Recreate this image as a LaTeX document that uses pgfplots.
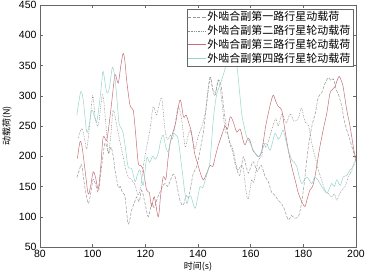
\documentclass[border=0pt]{standalone}
\usepackage{pgfplots}
\pgfplotsset{compat=1.18}
\usepackage{fontspec}
\setmainfont{Liberation Sans}
\newfontfamily\cjk{Noto Sans CJK SC}
\definecolor{gA}{RGB}{150,150,150}
\definecolor{gB}{RGB}{140,140,140}
\definecolor{rC}{RGB}{195,110,120}
\definecolor{tD}{RGB}{150,212,205}
\begin{document}
\begin{tikzpicture}
\begin{axis}[
 width=316pt, height=242pt, scale only axis,
 xmin=80, xmax=200, ymin=50, ymax=450,
 xtick={80,100,...,200}, ytick={50,100,...,450},
 tick align=inside, major tick length=3pt,
 axis line style={black!60}, every tick/.style={black!60},
 tick label style={font=\fontsize{10.5}{12}\selectfont, /pgf/number format/assume math mode=true},
 xlabel={\cjk 时间(s)}, ylabel={\cjk 动载荷(N)},
 label style={font=\fontsize{9}{10}\selectfont},
 x label style={at={(axis description cs:0.5,-0.0826)}, anchor=center},
 y label style={at={(axis description cs:-0.1044,0.5)}, anchor=center},
 legend style={at={(axis description cs:1,1)}, anchor=north east, xshift=-3pt, yshift=-4pt,
   font=\cjk\fontsize{11}{12}\selectfont, draw=black!60, row sep=0pt, inner sep=1pt, nodes={inner sep=1.5pt}},
 legend cell align=left,
 every axis plot/.append style={line width=0.5pt},
]
\addplot[gA, dash pattern=on 3pt off 1.5pt, smooth, tension=0.5] coordinates {
(94,165) (95,178) (95.8,186) (97,150) (98.3,122) (99.3,140) (100.2,162) (101.2,152) (102.2,141) (103.3,180)
(104.7,222) (106,205) (107,215) (107.8,200) (108.5,177) (109.7,149) (110.5,150) (111.3,140) (112.3,133) (113.5,88)
(114.8,111) (116,125) (116.7,133) (117.7,125) (118.6,144) (119.9,122) (121.1,100) (122.4,122) (123.4,115) (124.5,130)
(125.5,140) (126.5,150) (127.5,155) (128.5,150) (129.5,160) (130.5,170) (131.3,166) (132.3,145) (133.3,125) (134.4,119)
(135.5,135) (136.3,130) (137,144) (138.2,172) (139.2,180) (140.1,194) (141,215) (142,238) (143,275) (144.6,330)
(145.5,312) (146.5,300) (147.7,325) (148.7,318) (149.5,290) (150.5,255) (152,222) (153,210) (154,189) (155,175)
(155.9,169) (157.2,199) (158.2,185) (159.1,172) (160,182) (161,191) (162.5,175) (164,185) (165.5,166) (166.7,158)
(168,140) (169.3,135) (170.5,127) (172,120) (173,110) (174.3,95) (175.5,102) (176.5,98) (178.1,100) (179.2,120)
(180.2,150) (181.2,190) (182.2,225) (183.5,255) (184.5,270) (185.7,298) (187,305) (188.2,320) (189.5,330) (190.5,325)
(191.4,328) (192.5,310) (193.5,300) (194.6,282) (195.5,260) (196.5,243) (197.5,230) (198.4,216) (199.2,205) (200,190)
};
\addlegendentry{外啮合副第一路行星动载荷}
\addplot[gB, dash pattern=on 1.2pt off 1pt on 0.4pt off 1pt, smooth, tension=0.5] coordinates {
(94.5,230) (95.8,246) (96.8,232) (97.7,212) (98.7,245) (100,300) (101,262) (102.2,252) (103.8,302) (105.3,238)
(106,205) (106.9,235) (107.8,276) (109,254) (110.3,225) (111.6,199) (112.5,180) (113.5,166) (114.5,162) (115.4,158)
(116.3,150) (117.3,136) (118.3,150) (119.3,185) (120.5,215) (121.8,245) (123,282) (124.2,268) (125,280) (126.2,296)
(127.5,243) (128.5,228) (129.5,235) (130.3,228) (131.3,252) (132.5,282) (133.8,260) (135.1,216) (136,230) (137,243)
(138,227) (138.9,212) (140,232) (141.5,250) (142.7,271) (143.9,315) (144.6,331) (145.6,312) (146.6,305) (147.7,326)
(148.8,300) (150.3,243) (151.3,238) (152.2,221) (153.4,210) (154.5,185) (155.3,177) (156.3,185) (157.2,180) (158.3,140)
(159.1,130) (160.4,161) (161.2,158) (162.9,194) (164.2,199) (164.8,222) (165.8,215) (166.7,224) (168,243) (169.5,262)
(170.5,250) (172,270) (173.5,255) (175,270) (176.5,258) (178.1,262) (179.3,280) (180.6,257) (182,250) (183.5,215)
(185,190) (185.7,177) (187,160) (188.2,144) (189.5,138) (190.8,133) (191.8,138) (192.7,127) (194,140) (195.8,150)
(197,165) (198.4,177) (199.3,190) (200,198)
};
\addlegendentry{外啮合副第二路行星轮动载荷}
\addplot[rC, smooth, tension=0.5] coordinates {
(94.2,196) (95.2,224) (96,215) (97.1,177) (98.3,138) (99.2,150) (100.2,174) (101.1,165) (102.1,146) (103,180)
(104,232) (105.3,226) (106.5,262) (107.5,300) (108.5,335) (109.7,321) (110.7,350) (111.6,370) (112.3,355) (112.9,326)
(114.2,284) (115.4,276) (116.3,238) (117.3,189) (118.2,185) (119.2,177) (120.5,144) (121.5,140) (122.4,117) (123.4,133)
(124.9,100) (125.8,135) (126.8,166) (127.8,162) (128.6,195) (129.4,221) (130.5,240) (131.5,255) (133.2,293) (134.5,265)
(135.5,268) (136.5,255) (137.5,240) (138.7,205) (139.7,190) (140.7,175) (142,161) (143.3,172) (144.6,185) (145.6,183)
(146.6,200) (147.5,215) (148.4,227) (149.4,240) (150.3,250) (151.2,245) (152.2,265) (153.3,258) (154.7,240) (156,245)
(157.2,225) (157.9,219) (159,230) (159.8,225) (160.8,210) (161.7,205) (163,199) (164,205) (164.8,224) (165.7,250)
(166.7,271) (167.7,290) (168.6,301) (169.6,290) (170.5,282) (171.8,276) (173,243) (174.3,210) (175.2,190) (176.2,172)
(177.2,155) (178.1,139) (179.4,125) (180.6,117) (181.5,130) (182.5,144) (183.5,150) (184.4,166) (185.3,190) (186.3,216)
(187.6,245) (188.9,271) (190.1,304) (191,310) (192,315) (192.8,325) (193.6,332) (194.4,325) (195.1,315) (196.5,276)
(197.5,255) (198.4,232) (199.2,210) (200,195)
};
\addlegendentry{外啮合副第三路行星轮动载荷}
\addplot[tD, smooth, tension=0.5] coordinates {
(94,268) (95.5,307) (96.5,290) (97.7,241) (98.6,250) (99.6,276) (100.5,268) (101.5,257) (102.5,285) (103.4,320)
(104,340) (105.3,306) (106.3,312) (107.5,347) (108.5,328) (109.3,290) (110,255) (111,245) (111.6,238) (112.5,212)
(113.5,182) (114.8,180) (116.1,158) (117,170) (118,177) (119.2,152) (120.5,197) (121.6,190) (122.8,200) (123.8,195)
(124.9,205) (125.8,225) (126.8,235) (127.8,215) (128.7,208) (129.7,228) (130.6,238) (131.6,235) (132.5,227) (133.8,183)
(134.7,150) (135.7,122) (136.5,132) (137.3,134) (138.9,114) (140,135) (140.8,150) (141.8,148) (142.7,160) (143.7,175)
(144.6,194) (145.8,260) (147,300) (148.5,320) (150.3,345) (152.5,385) (154.7,350) (155.7,310) (156.6,270) (157.5,250)
(158.5,232) (159.8,222) (161,210) (162.9,199) (164,207) (165.5,221) (166.4,218) (167.4,210) (168.4,225) (169.3,238)
(170.5,228) (171.5,235) (172.4,243) (173.9,216) (175.6,194) (176.5,190) (177.5,183) (178.5,165) (179.4,155) (180.5,162)
(181.5,165) (183.2,155) (184.2,165) (185.3,162) (187,150) (188.9,139) (190,148) (190.8,155) (191.8,150) (192.7,161)
(194,152) (195.2,166) (196.5,168) (197.7,177) (198.7,182) (199.6,188)
};
\addlegendentry{外啮合副第四路行星轮动载荷}
\end{axis}
\pgfresetboundingbox
\path[use as bounding box] ([xshift=-40pt,yshift=-26pt]current axis.south west) rectangle ([xshift=12pt,yshift=5pt]current axis.north east);
\end{tikzpicture}
\end{document}
